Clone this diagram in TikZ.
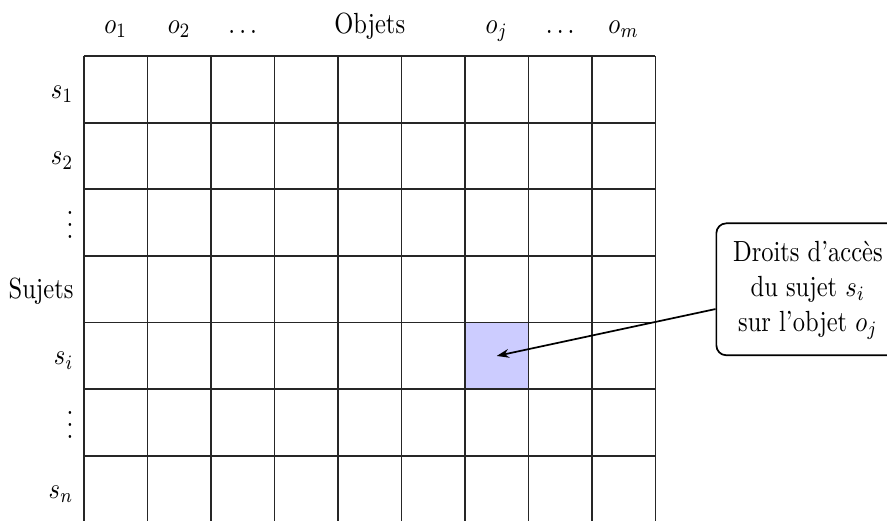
\documentclass[tikz,border=0pt]{standalone}
\usepackage{fontspec}
\usepackage{graphicx}
\usetikzlibrary{calc,arrows.meta}

% 文字竖向拉伸 (与原图比例一致)
\newcommand{\etire}[1]{\scalebox{1}[1.19]{#1}}

\begin{document}
\begin{tikzpicture}[x=25.92pt, y=27.21pt, >={Stealth[length=5pt,width=3.6pt]}, line join=round,
    grille/.style={line width=0.7pt, black!85},
    titrecol/.style={anchor=base},
    titrelig/.style={anchor=base east, inner ysep=0pt},
    bulle/.style={draw, line width=0.7pt, rounded corners=4pt, fill=white, inner xsep=6.8pt, inner ysep=5.5pt}]
    % 画布范围 (下边和右边被裁掉)
    \useasboundingbox (-1.3228,0.0255) rectangle (12.646,7.840);
    \clip (-1.3228,0.0255) rectangle (12.646,7.840);

    % 1. 选中的格子 (s_i, o_j)
    \fill[blue!20] (6,2) rectangle (7,3);
    \coordinate (cible) at (6.5,2.5);

    % 2. 访问矩阵网格 (9 列 7 行)
    \draw[grille, step=1] (0,0) grid (9,7);

    % 3. 列标题 (客体)
    \node[titrecol] (o1) at (0.5,7.341) {\etire{$o_1$}};
    \node[titrecol] (o2) at (1.5,7.341) {\etire{$o_2$}};
    \node[titrecol] (odots) at (2.5,7.341) {\etire{$\dots$}};
    \node[titrecol] (objets) at (4.5,7.341) {\etire{Objets}};
    \node[titrecol] (oj) at (6.5,7.341) {\etire{$o_j$}};
    \node[titrecol] (odotsb) at (7.5,7.341) {\etire{$\dots$}};
    \node[titrecol] (om) at (8.5,7.341) {\etire{$o_m$}};

    % 4. 行标题 (主体)
    \node[titrelig] (s1) at (-0.03,6.365) {\etire{$s_1$}};
    \node[titrelig] (s2) at (-0.03,5.365) {\etire{$s_2$}};
    \node[titrelig] (svdots) at (-0.03,4.266) {\etire{$\vdots$}};
    \node[titrelig] (sujets) at (-0.03,3.365) {\etire{Sujets}};
    \node[titrelig] (si) at (-0.03,2.365) {\etire{$s_i$}};
    \node[titrelig] (svdotsb) at (-0.03,1.266) {\etire{$\vdots$}};
    \node[titrelig] (sn) at (-0.03,0.365) {\etire{$s_n$}};

    % 5. 说明框与箭头
    \node[bulle] (droits) at (11.4,3.5) {\etire{\begin{tabular}{@{}c@{}}Droits d'accès\\ du sujet $s_i$\\ sur l'objet $o_j$\end{tabular}}};
    \draw[line width=0.7pt, ->] (droits) -- (cible);
\end{tikzpicture}
\end{document}
